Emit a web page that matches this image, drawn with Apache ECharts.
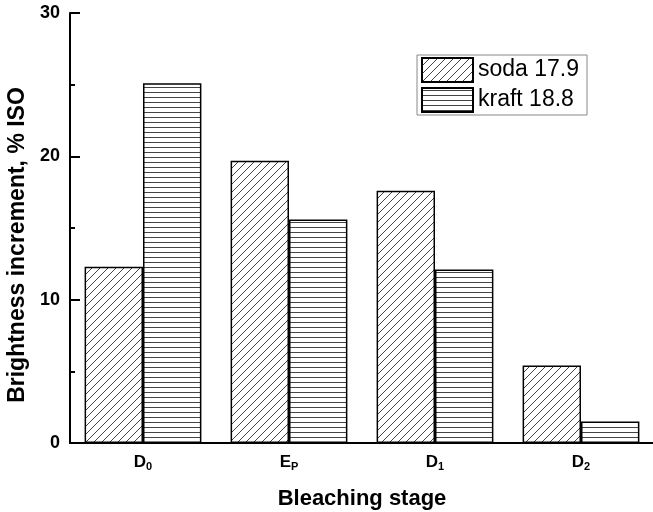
<!DOCTYPE html>
<html lang="en">
<head>
    <meta charset="UTF-8">
    <title>Bleaching stage</title>
    <script src="https://cdn.jsdelivr.net/npm/echarts@6/dist/echarts.min.js"></script>
    <style>
        html, body { margin: 0; padding: 0; background: #fff; }
        #main { width: 653px; height: 512px; }
    </style>
</head>
<body>
    <div id="main"></div>
    <script>
        // categories: main letter + subscript
        var stageMain = ['D', 'E', 'D', 'D'];
        var stageSub = ['0', 'P', '1', '2'];
        var stages = ['D0', 'EP', 'D1', 'D2'];

        var sodaValues = [12.3, 19.7, 17.6, 5.4];
        var kraftValues = [25.1, 15.6, 12.1, 1.5];

        var seriesNames = ['soda 17.9', 'kraft 18.8'];

        var yTicks = [0, 10, 20, 30];

        var font = '"Liberation Sans", Arial, Helvetica, sans-serif';

        // hatch fills drawn on small canvases
        function diagonalHatch() {
            var s = 8;
            var c = document.createElement('canvas');
            c.width = s; c.height = s;
            var ctx = c.getContext('2d');
            ctx.fillStyle = '#fff';
            ctx.fillRect(0, 0, s, s);
            ctx.strokeStyle = '#444';
            ctx.lineWidth = 1;
            ctx.beginPath();
            ctx.moveTo(0, s); ctx.lineTo(s, 0);
            ctx.moveTo(-1, 1); ctx.lineTo(1, -1);
            ctx.moveTo(s - 1, s + 1); ctx.lineTo(s + 1, s - 1);
            ctx.stroke();
            return c;
        }

        function horizontalHatch() {
            var c = document.createElement('canvas');
            c.width = 8; c.height = 5;
            var ctx = c.getContext('2d');
            ctx.fillStyle = '#fff';
            ctx.fillRect(0, 0, 8, 5);
            ctx.strokeStyle = '#444';
            ctx.lineWidth = 1;
            ctx.beginPath();
            ctx.moveTo(0, 2.5); ctx.lineTo(8, 2.5);
            ctx.stroke();
            return c;
        }

        var myChart = echarts.init(document.getElementById('main'));

        var option = {
            backgroundColor: '#fff',
            animation: false,
            textStyle: { fontFamily: font },
            grid: {
                left: 70,
                right: -1,
                top: 13,
                bottom: 69,
                containLabel: false,
                outerBoundsMode: 'none'
            },
            legend: {
                data: seriesNames,
                orient: 'vertical',
                left: 417,
                top: 55,
                itemWidth: 51,
                itemHeight: 24,
                itemGap: 4,
                padding: [2, 8, 2, 4],
                borderColor: '#888',
                borderWidth: 1,
                icon: 'rect',
                textStyle: {
                    fontFamily: font,
                    fontSize: 23,
                    color: '#000',
                    padding: [0, 0, 3, 0]
                }
            },
            xAxis: [
                {
                    type: 'category',
                    data: stages,
                    axisLine: { lineStyle: { color: '#000', width: 2 } },
                    axisTick: { show: false },
                    axisLabel: {
                        margin: 10,
                        formatter: function (v, i) {
                            return '{m|' + stageMain[i] + '}{s|' + stageSub[i] + '}';
                        },
                        rich: {
                            m: { fontFamily: font, fontWeight: 'bold', fontSize: 17, color: '#000' },
                            s: { fontFamily: font, fontWeight: 'bold', fontSize: 11, color: '#000', padding: [8, 0, 0, 0] }
                        }
                    },
                    name: 'Bleaching stage',
                    nameLocation: 'middle',
                    nameGap: 45,
                    nameTextStyle: { fontFamily: font, fontWeight: 'bold', fontSize: 22, color: '#000' }
                },
                {
                    type: 'category',
                    position: 'top',
                    data: stages,
                    axisLine: { lineStyle: { color: '#000', width: 2 } },
                    axisTick: { show: false },
                    axisLabel: { show: false }
                }
            ],
            yAxis: [
                {
                    type: 'value',
                    min: yTicks[0],
                    max: yTicks[yTicks.length - 1],
                    interval: 10,
                    axisLine: { show: true, lineStyle: { color: '#000', width: 2 } },
                    axisTick: { show: true, inside: true, length: 10, lineStyle: { color: '#000', width: 2 } },
                    minorTick: { show: true, splitNumber: 2, length: 5, lineStyle: { color: '#000', width: 2 } },
                    splitLine: { show: false },
                    axisLabel: {
                        margin: 10,
                        fontFamily: font,
                        fontWeight: 'bold',
                        fontSize: 18,
                        color: '#000'
                    },
                    name: 'Brightness increment, % ISO',
                    nameLocation: 'middle',
                    nameGap: 39,
                    nameTextStyle: {
                        fontFamily: font,
                        fontWeight: 'bold',
                        fontSize: 23,
                        color: '#000',
                        padding: [0, 34, 0, 0]
                    }
                },
                {
                    type: 'value',
                    position: 'right',
                    min: 0,
                    max: 30,
                    interval: 10,
                    axisLine: { show: true, lineStyle: { color: '#000', width: 2 } },
                    axisTick: { show: false },
                    axisLabel: { show: false },
                    splitLine: { show: false }
                }
            ],
            series: [
                {
                    name: seriesNames[0],
                    type: 'bar',
                    data: sodaValues,
                    barWidth: '40%',
                    barGap: '0%',
                    itemStyle: {
                        color: { image: diagonalHatch(), repeat: 'repeat' },
                        borderColor: '#000',
                        borderWidth: 1.5
                    }
                },
                {
                    name: seriesNames[1],
                    type: 'bar',
                    data: kraftValues,
                    barWidth: '40%',
                    barGap: '0%',
                    itemStyle: {
                        color: { image: horizontalHatch(), repeat: 'repeat' },
                        borderColor: '#000',
                        borderWidth: 1.5
                    }
                }
            ]
        };

        myChart.setOption(option);
    </script>
</body>
</html>
